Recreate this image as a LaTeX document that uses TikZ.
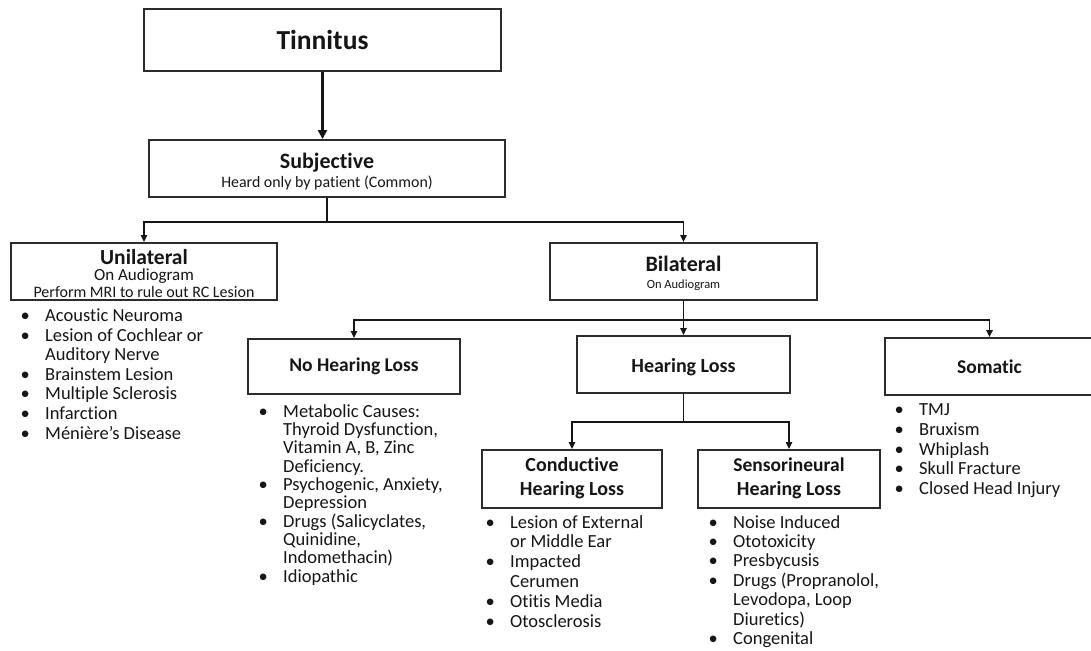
\documentclass[tikz,border=0pt]{standalone}
\usepackage{fontspec}
\setmainfont{Carlito}[Ligatures={TeX,NoCommon}]
\usetikzlibrary{arrows.meta}
\definecolor{ink}{HTML}{161616}
\definecolor{edge}{HTML}{2C2C2C}
\newcommand\bul{\leavevmode\llap{\makebox[40pt]{\textbullet}}}
\begin{document}
\begin{tikzpicture}[x=1pt,y=-1pt,
  box/.style={draw=edge, line width=1.9pt, inner sep=0pt, align=center, text=ink},
  btext/.style={anchor=base, inner sep=0pt, text=ink, font=\fontsize{#1}{#1}\selectfont},
  bbtext/.style={anchor=base, inner sep=0pt, text=ink, font=\fontsize{#1}{#1}\selectfont\bfseries},
  conn/.style={draw=ink, line width=1.4pt},
  arr/.style={conn, -{Triangle[length=7pt,width=6.5pt]}},
  bigarr/.style={draw=ink, line width=2.4pt, -{Triangle[length=9pt,width=9pt]}},
  list/.style={anchor=base west, inner sep=0pt, align=left, text=ink,
    font=\fontsize{18.5}{#1}\selectfont}]
\fill[white] (0,0) rectangle (1091,650);
\useasboundingbox (0,0) rectangle (1091,650);

% boxes
\node[box, minimum width=357pt, minimum height=62pt, font=\fontsize{27.5}{30}\selectfont\bfseries]
  (tin) at (322.5,40) {Tinnitus};
\node[box, minimum width=356pt, minimum height=57pt] (subj) at (327,168.5) {};
\node[bbtext=22] (subjt) at (327,168) {Subjective};
\node[btext=15.9] (subjs) at (327,187) {Heard only by patient (Common)};

\node[box, minimum width=266pt, minimum height=57pt] (uni) at (144,271.5) {};
\node[bbtext=21.5] (unit) at (144,264) {Unilateral};
\node[btext=17] (unis) at (144,280.5) {On Audiogram};
\node[btext=16] (unim) at (144,297) {Perform MRI to rule out RC Lesion};

\node[box, minimum width=267pt, minimum height=57pt] (bil) at (683.5,271.5) {};
\node[bbtext=22] (bilt) at (683.5,271.5) {Bilateral};
\node[btext=12.5] (bils) at (683.5,288.5) {On Audiogram};

\node[box, minimum width=212pt, minimum height=55pt, font=\fontsize{19.5}{22}\selectfont\bfseries]
  (nhl) at (354,366.5) {No Hearing Loss};
\node[box, minimum width=213pt, minimum height=57pt] (hl) at (683.5,364.5) {};
\node[bbtext=20] (hlt) at (683.5,372.5) {Hearing Loss};
\node[box, minimum width=209pt, minimum height=57pt, font=\fontsize{19.5}{22}\selectfont\bfseries]
  (som) at (989.5,366.5) {Somatic};

\node[box, minimum width=180pt, minimum height=58pt] (cond) at (572,479) {};
\node[bbtext=20] (condt) at (572,471) {Conductive};
\node[bbtext=20] (condh) at (572,495.5) {Hearing Loss};
\node[box, minimum width=182pt, minimum height=58pt] (sens) at (789,479) {};
\node[bbtext=19.5] (senst) at (789,471) {Sensorineural};
\node[bbtext=20] (sensh) at (789,495.5) {Hearing Loss};

% lists (anchored at the baseline of their last line)
\node[list=19.6] (unilist) at (45,439) {\bul Acoustic Neuroma\\
\bul Lesion of Cochlear or\\
Auditory Nerve\\
\bul Brainstem Lesion\\
\bul Multiple Sclerosis\\
\bul Infarction\\
\bul Ménière's Disease};
\node[list=18.3] (nhllist) at (283,582) {\bul Metabolic Causes:\\
Thyroid Dysfunction,\\
Vitamin A, B, Zinc\\
Deficiency.\\
\bul Psychogenic, Anxiety,\\
Depression\\
\bul Drugs (Salicyclates,\\
Quinidine,\\
Indomethacin)\\
\bul Idiopathic};
\node[list=19.9] (condlist) at (510,627.5) {\bul Lesion of External\\
or Middle Ear\\
\bul Impacted\\
Cerumen\\
\bul Otitis Media\\
\bul Otosclerosis};
\node[list=19.4] (senslist) at (733,644.4) {\bul Noise Induced\\
\bul Ototoxicity\\
\bul Presbycusis\\
\bul Drugs (Propranolol,\\
Levodopa, Loop\\
Diuretics)\\
\bul Congenital};
\node[list=19.8] (somlist) at (919,494.7) {\bul TMJ\\
\bul Bruxism\\
\bul Whiplash\\
\bul Skull Fracture\\
\bul Closed Head Injury};

% connectors
\draw[bigarr] (tin.south) -- (tin.south |- subj.north);
\path (subj.south) ++(0,24) coordinate (j1);
\draw[conn] (subj.south) -- (j1);
\draw[arr] (j1) -| (uni.north);
\draw[arr] (j1) -| (bil.north);
\path (bil.south) ++(0,19) coordinate (j2);
\draw[conn] (bil.south) -- (j2);
\draw[arr] (j2) -| (nhl.north);
\draw[arr] (j2) -- (hl.north);
\draw[arr] (j2) -| (som.north);
\path (hl.south) ++(0,28) coordinate (j3);
\draw[conn] (hl.south) -- (j3);
\draw[arr] (j3) -| (cond.north);
\draw[arr] (j3) -| (sens.north);
\end{tikzpicture}
\end{document}
